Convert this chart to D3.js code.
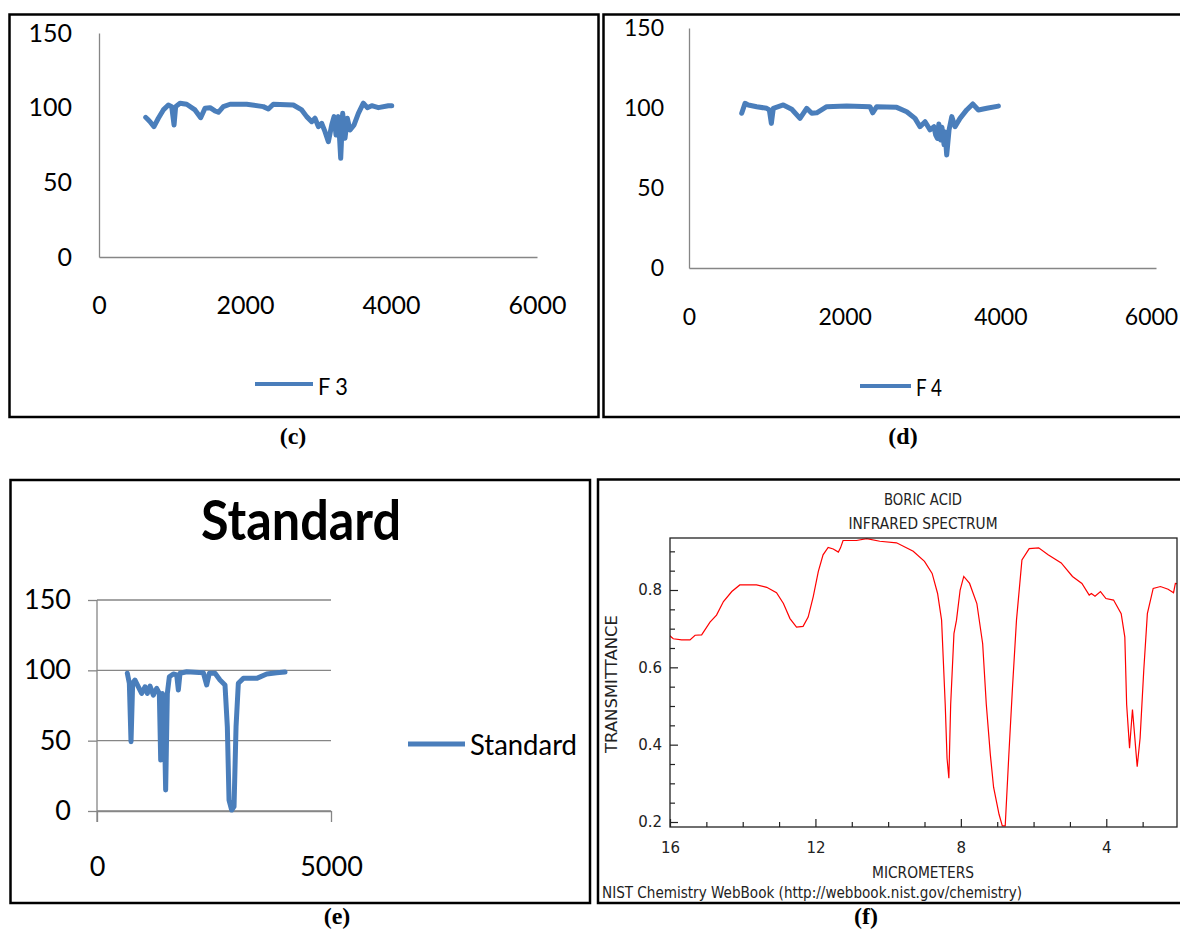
<!DOCTYPE html>
<html>
<head>
<meta charset="utf-8">
<script src="https://cdn.jsdelivr.net/npm/d3@7"></script>
<style>
  body { margin: 0; background: #fff; }
  svg { display: block; }
</style>
</head>
<body>
<div id="chart"></div>
<script>
// ---- datos ----
// F 3 (c): numero de onda / transmitancia
const f3Wave  = [640, 670, 699, 753, 813, 881, 950, 996, 1028, 1050, 1110, 1201, 1315, 1393, 1452, 1521, 1589, 1635, 1703, 1795, 2023, 2251, 2320, 2388, 2662, 2777, 2845, 2914, 2959, 3005, 3051, 3096, 3142, 3188, 3220, 3247, 3279, 3311, 3338, 3370, 3402, 3439, 3494, 3553, 3621, 3676, 3736, 3827, 3964, 4010];
const f3Value = [93.5, 92, 90.6, 87.3, 92.9, 98.5, 101.8, 100.7, 88.4, 100.7, 103, 102.3, 98.5, 93.3, 99.6, 100, 97.8, 96.9, 100.7, 102.3, 102.3, 100.7, 99.1, 102.3, 101.8, 98.5, 94, 90.6, 92.9, 87.3, 89.5, 83.9, 77.2, 88.4, 94, 81.7, 94, 66.1, 96.2, 79.5, 92.9, 85, 88.4, 96.2, 103, 100, 101.3, 100, 101.3, 101.3];

// F 4 (d)
const f4Wave  = [677, 720, 762, 870, 998, 1032, 1058, 1083, 1212, 1320, 1426, 1512, 1577, 1641, 1769, 2026, 2326, 2360, 2412, 2669, 2797, 2904, 2968, 3033, 3097, 3148, 3170, 3191, 3210, 3234, 3250, 3277, 3290, 3311, 3341, 3376, 3418, 3482, 3568, 3646, 3718, 3826, 3975];
const f4Value = [96.7, 102.9, 101.9, 100.8, 99.8, 98.8, 90.4, 99.8, 101.9, 99.2, 93.5, 99.8, 96.7, 97, 100.8, 101.2, 100.8, 97, 100.8, 100.4, 97.7, 93.5, 88.3, 91.4, 86.3, 88.3, 83, 81, 90, 80, 88, 77, 85, 70.6, 86.3, 94.6, 88.3, 93.5, 98.8, 102.5, 98.8, 99.8, 101.2];

// Standard (e)
const stdWave  = [648, 691, 727, 762, 812, 884, 954, 1026, 1076, 1133, 1204, 1275, 1332, 1361, 1396, 1432, 1467, 1503, 1546, 1631, 1703, 1738, 1774, 1917, 2272, 2344, 2400, 2522, 2628, 2735, 2785, 2821, 2878, 2928, 2971, 3020, 3127, 3413, 3626, 3840, 4018];
const stdValue = [97.9, 90.8, 49.3, 90.8, 93.1, 88.3, 83.6, 88.3, 83.6, 88.8, 82.4, 87.2, 83.6, 36.2, 83.6, 74.1, 14.9, 83.6, 95.4, 97.4, 96.7, 86, 97.9, 99, 98.3, 89.6, 97.9, 97.9, 93.1, 89.6, 59.9, 7.8, 0.7, 3.1, 59.9, 90.8, 94.3, 94.3, 97.4, 98.3, 98.8];

// Boric acid, NIST (f): micrometros / transmitancia
const boricMicron = [16.02, 15.91, 15.68, 15.45, 15.31, 15.13, 14.9, 14.72, 14.53, 14.30, 14.08, 13.62, 13.34, 13.07, 12.88, 12.70, 12.52, 12.34, 12.20, 12.06, 11.92, 11.79, 11.65, 11.51, 11.37, 11.31, 11.24, 10.87, 10.59, 10.23, 9.77, 9.31, 9.0, 8.79, 8.64, 8.53, 8.43, 8.38, 8.33, 8.28, 8.19, 8.12, 8.02, 7.92, 7.76, 7.56, 7.4, 7.3, 7.19, 7.1, 6.95, 6.86, 6.78, 6.68, 6.58, 6.47, 6.32, 6.12, 5.86, 5.6, 5.24, 4.93, 4.67, 4.47, 4.41, 4.31, 4.16, 4.01, 3.8, 3.59, 3.49, 3.44, 3.36, 3.28, 3.23, 3.15, 3.07, 2.97, 2.87, 2.71, 2.51, 2.3, 2.15, 2.1, 1.95];
const boricTrans  = [0.683, 0.674, 0.671, 0.671, 0.683, 0.684, 0.717, 0.735, 0.770, 0.796, 0.813, 0.813, 0.807, 0.793, 0.765, 0.726, 0.704, 0.706, 0.730, 0.783, 0.848, 0.891, 0.910, 0.906, 0.898, 0.909, 0.928, 0.928, 0.933, 0.926, 0.922, 0.900, 0.874, 0.843, 0.791, 0.722, 0.504, 0.365, 0.313, 0.504, 0.687, 0.722, 0.8, 0.835, 0.817, 0.765, 0.661, 0.504, 0.375, 0.29, 0.22, 0.19, 0.19, 0.374, 0.548, 0.722, 0.878, 0.907, 0.909, 0.891, 0.870, 0.835, 0.817, 0.787, 0.791, 0.784, 0.796, 0.778, 0.774, 0.739, 0.678, 0.504, 0.391, 0.491, 0.435, 0.343, 0.417, 0.591, 0.739, 0.804, 0.809, 0.802, 0.793, 0.817, 0.816];

// ticks
const excelYTicks = [0, 50, 100, 150];
const cdXTicks = [0, 2000, 4000, 6000];
const eXTicks = [0, 5000];
const boricXTicks = [16, 12, 8, 4];
const boricXMinor = [15, 14, 13, 11, 10, 9, 7, 6, 5, 3];
const boricYTicks = [0.2, 0.4, 0.6, 0.8];
const boricYMinor = [0.25, 0.3, 0.35, 0.45, 0.5, 0.55, 0.65, 0.7, 0.75, 0.85, 0.9];

const width = 1180, height = 931;
const blue = '#4a7ebb', grey = '#868686';
const excelFont = 'Lato, "Open Sans", sans-serif';
const nistFont = '"DejaVu Sans", sans-serif';

const svg = d3.select('#chart').append('svg')
    .attr('width', width)
    .attr('height', height);

svg.append('rect').attr('width', width).attr('height', height).attr('fill', '#fff');

//Texto con ancho forzado
function addText(g, o) {
    let t = g.append('text')
        .attr('x', o.x)
        .attr('y', o.y)
        .attr('font-family', o.family || excelFont)
        .attr('font-size', o.size)
        .attr('font-weight', o.weight || 'normal')
        .attr('fill', o.fill || '#000')
        .attr('text-anchor', o.anchor || 'start')
        .text(o.text);
    if(o.len) t.attr('textLength', o.len).attr('lengthAdjust', 'spacingAndGlyphs');
    if(o.rotate) t.attr('transform', 'rotate(' + o.rotate + ',' + o.x + ',' + o.y + ')');
    return t;
}

//Marcos de cada panel
function frame(x0, y0, x1, y1) {
    svg.append('rect')
        .attr('x', x0).attr('y', y0)
        .attr('width', x1 - x0).attr('height', y1 - y0)
        .attr('fill', 'none')
        .attr('stroke', '#000')
        .attr('stroke-width', 2.5);
}

frame(9.5, 14.5, 598.5, 417);
frame(603.5, 14.5, 1190, 417);
frame(10.5, 480, 590, 903);
frame(598, 479.5, 1190, 903);

//Paneles tipo Excel
function excelPanel(o) {
    let x = d3.scaleLinear().domain(o.xDomain).range(o.xRange);
    let y = d3.scaleLinear().domain([0, 150]).range(o.yRange);
    let g = svg.append('g');

    if(o.grid) {
        g.selectAll('.grid')
            .data(excelYTicks)
            .enter()
            .append('line')
            .attr('x1', o.xRange[0]).attr('x2', o.xRange[1])
            .attr('y1', d => y(d)).attr('y2', d => y(d))
            .attr('stroke', grey)
            .attr('stroke-width', 1.3);
    }

    let yAxis = g.append('g')
        .attr('transform', 'translate(' + o.xRange[0] + ',0)')
        .call(d3.axisLeft(y).tickValues(excelYTicks).tickSizeInner(o.grid ? 9 : 0).tickSizeOuter(0).tickPadding(o.yPad));

    let xAxis = g.append('g')
        .attr('transform', 'translate(0,' + y(0) + ')')
        .call(d3.axisBottom(x).tickValues(o.xTicks).tickSizeInner(o.grid ? 11 : 0).tickSizeOuter(0).tickPadding(o.xPad).tickFormat(d3.format('d')));

    if(o.grid) {
        yAxis.select('.domain').remove();
        g.append('line')
            .attr('x1', o.xRange[0]).attr('x2', o.xRange[0])
            .attr('y1', y(150)).attr('y2', y(0) + 11)
            .attr('stroke', grey)
            .attr('stroke-width', 1.3);
    }

    [yAxis, xAxis].forEach(a => {
        a.select('.domain').attr('stroke', grey).attr('stroke-width', 1.3);
        a.selectAll('.tick line').attr('stroke', grey).attr('stroke-width', 1.3);
        a.selectAll('.tick text')
            .attr('font-family', excelFont)
            .attr('font-size', o.tickSize)
            .attr('fill', '#000');
    });

    //La ultima etiqueta queda pegada al borde de la imagen
    if(o.lastShift) {
        xAxis.selectAll('.tick text').filter((d, i, n) => i == n.length - 1).attr('x', o.lastShift);
    }

    let line = d3.line()
        .x(d => x(d[0]))
        .y(d => y(d[1]));

    g.append('path')
        .datum(o.wave.map((w, i) => [w, o.value[i]]))
        .attr('d', line)
        .attr('fill', 'none')
        .attr('stroke', blue)
        .attr('stroke-width', 5)
        .attr('stroke-linejoin', 'round')
        .attr('stroke-linecap', 'round');

    //Leyenda
    g.append('line')
        .attr('x1', o.legend.x0).attr('x2', o.legend.x1)
        .attr('y1', o.legend.y).attr('y2', o.legend.y)
        .attr('stroke', blue)
        .attr('stroke-width', o.legend.w);
    addText(g, {x: o.legend.x1 + 5, y: o.legend.ty, text: o.name, size: o.legend.size, len: o.legend.len});
}

excelPanel({
    name: 'F 3', wave: f3Wave, value: f3Value,
    xDomain: [0, 6000], xRange: [99, 537], yRange: [257, 33], xTicks: cdXTicks,
    yPad: 27, xPad: 39, tickSize: 25,
    legend: {x0: 255, x1: 313, y: 384, w: 4, ty: 395, size: 24, len: 30}
});

excelPanel({
    name: 'F 4', wave: f4Wave, value: f4Value,
    xDomain: [0, 6000], xRange: [689, 1156], yRange: [268, 28], xTicks: cdXTicks,
    yPad: 25, xPad: 41, tickSize: 23, lastShift: -5,
    legend: {x0: 860, x1: 911, y: 386, w: 4, ty: 396, size: 23, len: 26}
});

excelPanel({
    name: 'Standard', wave: stdWave, value: stdValue, grid: true,
    xDomain: [0, 5000], xRange: [97, 331], yRange: [811, 600], xTicks: eXTicks,
    yPad: 17, xPad: 35, tickSize: 27,
    legend: {x0: 408, x1: 465, y: 744, w: 5, ty: 755, size: 29, len: 107}
});

addText(svg, {x: 301, y: 540, text: 'Standard', size: 56, weight: 'bold', anchor: 'middle', len: 200});

//Panel NIST
let fx = d3.scaleLinear().domain([16, 2]).range([670, 1179]);
let fy = d3.scaleLinear().domain([0.2, 0.8]).range([822, 590]);
let gf = svg.append('g');

gf.append('clipPath').attr('id', 'clipF')
    .append('rect').attr('x', 670).attr('y', 538).attr('width', 507).attr('height', 289);

gf.append('path')
    .datum(boricMicron.map((m, i) => [m, boricTrans[i]]))
    .attr('clip-path', 'url(#clipF)')
    .attr('d', d3.line().x(d => fx(d[0])).y(d => fy(d[1])))
    .attr('fill', 'none')
    .attr('stroke', '#ff0000')
    .attr('stroke-width', 1.2);

let fyAxis = gf.append('g').attr('transform', 'translate(670,0)')
    .call(d3.axisLeft(fy).tickValues(boricYTicks).tickSizeInner(-8).tickSizeOuter(0).tickPadding(8).tickFormat(d3.format('.1f')));
let fyMinor = gf.append('g').attr('transform', 'translate(670,0)')
    .call(d3.axisLeft(fy).tickValues(boricYMinor).tickSizeInner(-5).tickSizeOuter(0).tickFormat(''));
let fxAxis = gf.append('g').attr('transform', 'translate(0,827)')
    .call(d3.axisBottom(fx).tickValues(boricXTicks).tickSizeInner(-8).tickSizeOuter(0).tickPadding(15).tickFormat(d3.format('d')));
let fxMinor = gf.append('g').attr('transform', 'translate(0,827)')
    .call(d3.axisBottom(fx).tickValues(boricXMinor).tickSizeInner(-5).tickSizeOuter(0).tickFormat(''));

[fyAxis, fyMinor, fxAxis, fxMinor].forEach(a => {
    a.select('.domain').remove();
    a.selectAll('.tick line').attr('stroke', '#222').attr('stroke-width', 1.2);
    a.selectAll('.tick text').attr('font-family', nistFont).attr('font-size', 15).attr('fill', '#222');
});

gf.append('rect')
    .attr('x', 670).attr('y', 538).attr('width', 507).attr('height', 289)
    .attr('fill', 'none').attr('stroke', '#222').attr('stroke-width', 1.3);

addText(gf, {x: 923, y: 505, text: 'BORIC ACID', size: 16, anchor: 'middle', len: 78, family: nistFont, fill: '#222'});
addText(gf, {x: 923, y: 529, text: 'INFRARED SPECTRUM', size: 16, anchor: 'middle', len: 149, family: nistFont, fill: '#222'});
addText(gf, {x: 923, y: 878, text: 'MICROMETERS', size: 16, anchor: 'middle', len: 102, family: nistFont, fill: '#222'});
addText(gf, {x: 602, y: 898, text: 'NIST Chemistry WebBook (http://webbook.nist.gov/chemistry)', size: 16, len: 420, family: nistFont, fill: '#222'});
addText(gf, {x: 617, y: 684, text: 'TRANSMITTANCE', size: 16, anchor: 'middle', len: 138, family: nistFont, fill: '#222', rotate: -90});

//Etiquetas de los paneles
[['(c)', 293, 444], ['(d)', 903, 444], ['(e)', 337, 924], ['(f)', 866, 924]].forEach(c => {
    addText(svg, {x: c[1], y: c[2], text: c[0], size: 24, weight: 'bold', anchor: 'middle', family: '"Liberation Serif", "Times New Roman", serif'});
});
</script>
</body>
</html>
